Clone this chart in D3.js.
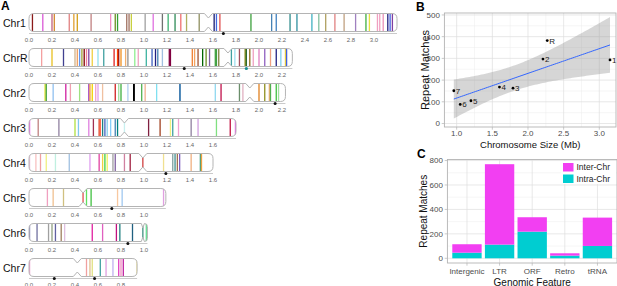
<!DOCTYPE html>
<html><head><meta charset="utf-8">
<script src="https://cdn.jsdelivr.net/npm/d3@7"></script>
<style>body{margin:0;background:#fff}svg{display:block;font-family:"Liberation Sans",Arial,sans-serif}</style>
</head><body><svg id="c" width="617" height="286"></svg>
<script>
// ---------- Panel A data ----------
const chrNames = ["Chr1","ChrR","Chr2","Chr3","Chr4","Chr5","Chr6","Chr7"];
const chrLengths = [3.20, 2.29, 2.23, 1.80, 1.60, 1.19, 1.03, 0.94];
const centromeres = [1.56, 1.73, 1.92, 0.83, 0.99, 0.47, 0.99, 0.42];
const tickMax = [3.0, 2.2, 2.2, 1.6, 1.6, 1.0, 1.0, 0.8];
const bandsChr1 = [[0.03,"#8b1a1a"],[0.12,"#da5ad6"],[0.20,"#c06080"],[0.22,"#d2872e"],[0.35,"#e08080"],[0.39,"#e0a030"],[0.42,"#d4a017"],[0.54,"#c08080"],[0.71,"#f08cc0"],[0.75,"#6b8e23"],[0.77,"#32a032"],[0.85,"#a07060"],[0.87,"#a07060"],[0.89,"#c8d040"],[1.01,"#a0a0a0"],[1.08,"#e070e0"],[1.16,"#707070"],[1.21,"#3cb371"],[1.27,"#2e8b57"],[1.32,"#f07070"],[1.37,"#b0b060"],[1.48,"#8f8f60"],[1.61,"#191970"],[1.63,"#4169e1"],[1.66,"#e05050"],[1.93,"#3ca03c"],[2.11,"#4682b4"],[2.15,"#4080c0"],[2.27,"#2e8b8b"],[2.33,"#3090a0"],[2.46,"#40b0c0"],[2.52,"#80c0a0"],[2.58,"#b0a060"],[2.66,"#e08080"],[2.74,"#c0a080"],[2.84,"#a080c0"],[2.93,"#40b040"],[2.96,"#e8e040"],[3.03,"#f0a0c0"],[3.05,"#f0a0c0"],[3.08,"#e890b8"],[3.12,"#202080"],[3.14,"#4060e0"],[3.16,"#8040a0"]];
const bandsChrR = [[0.11,"#f4a0a0"],[0.20,"#e8c020"],[0.30,"#404090"],[0.40,"#d2b48c"],[0.42,"#f0a060"],[0.44,"#6495ed"],[0.46,"#a0a030"],[0.48,"#800000"],[0.50,"#f080a0"],[0.52,"#8040a0"],[0.55,"#f0d040"],[0.60,"#90e0f0"],[0.65,"#40a0a0"],[0.74,"#e02020"],[0.77,"#ff4500"],[0.78,"#a01010"],[0.80,"#f09020"],[0.84,"#f0b070"],[0.86,"#909090"],[0.92,"#90ee90"],[0.95,"#f0a0c0"],[1.02,"#3cb3a0"],[1.07,"#4060c0"],[1.10,"#202080"],[1.12,"#4682b4"],[1.16,"#a0c0e0"],[1.22,"#800040"],[1.23,"#800040"],[1.42,"#f08030"],[1.44,"#f4a460"],[1.47,"#a0522d"],[1.51,"#006400"],[1.54,"#6b8e23"],[1.57,"#8060a0"],[1.62,"#40a040"],[1.63,"#40a040"],[1.65,"#808040"],[1.76,"#40a0a0"],[1.79,"#a0e0f0"],[1.83,"#a05060"],[1.88,"#808000"],[1.89,"#2e6b2e"],[1.92,"#8b6914"],[1.95,"#f0a0c0"],[2.00,"#e080c0"],[2.05,"#9060c0"],[2.10,"#f0a080"],[2.15,"#202080"],[2.19,"#80d0f0"],[2.23,"#f0d040"],[2.24,"#4060e0"]];
const bandsChr2 = [[0.14,"#e0e020"],[0.15,"#40a040"],[0.21,"#90c0f0"],[0.32,"#d020a0"],[0.36,"#f0a0b0"],[0.44,"#a0e080"],[0.52,"#a040c0"],[0.53,"#f0a040"],[0.55,"#f0d000"],[0.58,"#f0a0d0"],[0.60,"#e0a0f0"],[0.64,"#f0c0a0"],[0.75,"#d02020"],[0.78,"#a0e0a0"],[0.80,"#40b040"],[0.86,"#b0d0f0"],[0.91,"#000000"],[0.915,"#000000"],[0.98,"#50b050"],[1.01,"#f0b090"],[1.11,"#80e0f0"],[1.31,"#4682b4"],[1.315,"#4682b4"],[1.62,"#90d8f0"],[1.67,"#c0104a"],[1.83,"#6b8e6b"],[1.86,"#e0b0c0"],[2.00,"#e08020"],[2.05,"#909020"],[2.09,"#f0b070"],[2.10,"#50b050"],[2.15,"#40c040"],[2.17,"#a0e0a0"]];
const bandsChr3 = [[0.005,"#f060f0"],[0.08,"#c08080"],[0.26,"#9080a0"],[0.40,"#b0e040"],[0.43,"#80c8f0"],[0.52,"#e080e0"],[0.56,"#a03050"],[0.61,"#e04020"],[0.62,"#ff6347"],[0.64,"#208080"],[0.66,"#4060c0"],[0.68,"#87ceeb"],[0.71,"#87cefa"],[0.75,"#4682b4"],[0.77,"#008080"],[0.83,"#c8f0f0"],[1.04,"#802040"],[1.14,"#a04020"],[1.23,"#f0f080"],[1.25,"#40a0a0"],[1.30,"#f0a0d0"],[1.41,"#9080a0"],[1.47,"#d0a0e0"],[1.63,"#80e080"],[1.75,"#c01040"],[1.795,"#f060f0"]];
const bandsChr4 = [[0.005,"#f0c0e0"],[0.06,"#f8c0c0"],[0.10,"#f0a0a0"],[0.15,"#f0f080"],[0.23,"#c0f0e0"],[0.35,"#a0c0e0"],[0.53,"#e0a0f0"],[0.61,"#e040a0"],[0.64,"#f0d040"],[0.66,"#40d040"],[0.68,"#f0f060"],[0.73,"#a0a0a0"],[0.75,"#8060a0"],[0.83,"#d080a0"],[0.88,"#a02040"],[0.99,"#d04040"],[1.17,"#f0e090"],[1.25,"#80a0a0"],[1.27,"#409090"],[1.29,"#a07050"],[1.31,"#8060c0"],[1.41,"#f0b080"],[1.49,"#40a080"],[1.50,"#f0a040"]];
const bandsChr5 = [[0.16,"#f0a0c0"],[0.21,"#f0c090"],[0.30,"#d0c080"],[0.47,"#e05050"],[0.50,"#60e060"],[0.54,"#40c040"],[0.77,"#f8c8a0"],[0.81,"#a0c8f0"],[1.17,"#e0a0e0"]];
const bandsChr6 = [[0.005,"#9090c0"],[0.07,"#7070a0"],[0.17,"#a0a0a0"],[0.20,"#90a080"],[0.23,"#6060a0"],[0.28,"#a08060"],[0.31,"#e0c0e0"],[0.55,"#e020a0"],[0.64,"#e060c0"],[0.76,"#c01080"],[0.79,"#208080"],[0.90,"#206080"],[0.99,"#409080"],[1.02,"#60e090"]];
const bandsChr7 = [[0.005,"#f0a0d0"],[0.50,"#f0a0a0"],[0.53,"#e0c090"],[0.55,"#e0e080"],[0.62,"#40a0a0"],[0.67,"#e0a0e0"],[0.73,"#c0b0f0"],[0.78,"#e040c0"],[0.80,"#f090c0"],[0.82,"#c020a0"],[0.94,"#f0e080"]];
const allBands = [bandsChr1, bandsChrR, bandsChr2, bandsChr3, bandsChr4, bandsChr5, bandsChr6, bandsChr7];
const dotsBlack = [[1.69],[1.35],[2.14],[],[1.19],[0.72],[0.86],[0.22,0.57]];
const dotsTeal = [[],[1.89],[],[],[],[],[],[]];

// ---------- Panel B data ----------
const chrSize = [3.15, 2.27, 2.21, 1.79, 1.60, 1.20, 1.05, 0.96];
const repeatMatches = [293, 382, 297, 163, 168, 105, 88, 151];
const pointLabels = ["1","R","2","3","4","5","6","7"];
const bXTicks = [1.0, 1.5, 2.0, 2.5, 3.0];
const bYTicks = [0, 100, 200, 300, 400, 500];

// ---------- Panel C data ----------
const features = ["Intergenic","LTR","ORF","Retro","tRNA"];
const intraChr = [46, 112, 218, 22, 101];
const interChr = [69, 658, 118, 19, 232];
const cYTicks = [0, 200, 400, 600, 800];
const seriesNames = ["Inter-Chr","Intra-Chr"];
const seriesColors = ["#f23ff2","#00cdd1"];

const svg = d3.select("#c");
const defs = svg.append("defs");

// ================= Panel A =================
const xA = d3.scaleLinear().domain([0, 1]).range([29, 144]);
const rowY = d3.scaleLinear().domain([0, 1]).range([13.5, 48.5]);
const chrH = 18;
svg.append("text").attr("x", 1).attr("y", 10).attr("font-size", 12).attr("font-weight", "bold").text("A");

chrNames.forEach((name, i) => {
  const t = rowY(i), b = t + chrH;
  const x0 = xA(0), x1 = xA(chrLengths[i]), cx = xA(centromeres[i]);
  const w = Math.min(4, (x1 - cx) / 3);
  const r = Math.min(5, x1 - cx - w);
  const r0 = 5, d = 4.5;
  const p = `M${x0+r0},${t}L${cx-w},${t}L${cx},${t+d}L${cx+w},${t}L${x1-r},${t}Q${x1},${t} ${x1},${t+r}L${x1},${b-r}Q${x1},${b} ${x1-r},${b}L${cx+w},${b}L${cx},${b-d}L${cx-w},${b}L${x0+r0},${b}Q${x0},${b} ${x0},${b-r0}L${x0},${t+r0}Q${x0},${t} ${x0+r0},${t}Z`;
  defs.append("clipPath").attr("id", "clip" + i).append("path").attr("d", p);
  const g = svg.append("g");
  g.append("path").attr("d", p).attr("fill", "#fff");
  g.append("g").attr("clip-path", `url(#clip${i})`)
    .selectAll("line").data(allBands[i]).join("line")
    .attr("x1", dd => xA(dd[0])).attr("x2", dd => xA(dd[0]))
    .attr("y1", t).attr("y2", b)
    .attr("stroke", dd => dd[1]).attr("stroke-width", 1.3);
  g.append("path").attr("d", p).attr("fill", "none").attr("stroke", "#b4b4b4").attr("stroke-width", 1);
  const ay = b + 2;
  g.append("line").attr("x1", x0).attr("x2", x1).attr("y1", ay).attr("y2", ay)
    .attr("stroke", "#bdbdbd").attr("stroke-width", 0.8);
  const ticks = d3.range(0, tickMax[i] + 1e-6, 0.2);
  g.selectAll("text.tk").data(ticks).join("text").attr("class", "tk")
    .attr("x", v => xA(v)).attr("y", b + 10).attr("text-anchor", "middle")
    .attr("font-size", 6).attr("fill", "#666").text(d3.format(".1f"));
  g.selectAll("circle.bd").data(dotsBlack[i]).join("circle").attr("class", "bd")
    .attr("cx", v => xA(v)).attr("cy", ay).attr("r", 1.5).attr("fill", "#111");
  g.selectAll("circle.td").data(dotsTeal[i]).join("circle").attr("class", "td")
    .attr("cx", v => xA(v)).attr("cy", ay).attr("r", 1.6).attr("fill", "#1b8f8f");
  g.append("text").attr("x", 3).attr("y", t + chrH / 2 + 4).attr("font-size", 10.5).attr("fill", "#111").text(name);
});

// ================= Panel B =================
const xB = d3.scaleLinear().domain([0.828, 3.234]).range([444.4, 616]);
const yB = d3.scaleLinear().domain([-16, 509]).range([127, 13]);
const gB = svg.append("g");
const [bL, bR] = xB.range(), [bBot, bTop] = yB.range();
defs.append("clipPath").attr("id", "clipB").append("rect").attr("x", bL).attr("y", bTop).attr("width", bR - bL).attr("height", bBot - bTop);
const minorX = [0.75, 1.25, 1.75, 2.25, 2.75, 3.25], minorY = [50, 150, 250, 350, 450];
gB.append("g").attr("clip-path", "url(#clipB)").call(g => {
  g.selectAll("line.mx").data(minorX).join("line").attr("class","mx").attr("x1", xB).attr("x2", xB).attr("y1", bTop).attr("y2", bBot).attr("stroke", "#ededed").attr("stroke-width", 0.5);
  g.selectAll("line.my").data(minorY).join("line").attr("class","my").attr("y1", yB).attr("y2", yB).attr("x1", bL).attr("x2", bR).attr("stroke", "#ededed").attr("stroke-width", 0.5);
  g.selectAll("line.gx").data(bXTicks).join("line").attr("class","gx").attr("x1", xB).attr("x2", xB).attr("y1", bTop).attr("y2", bBot).attr("stroke", "#dedede").attr("stroke-width", 0.7);
  g.selectAll("line.gy").data(bYTicks).join("line").attr("class","gy").attr("y1", yB).attr("y2", yB).attr("x1", bL).attr("x2", bR).attr("stroke", "#dedede").attr("stroke-width", 0.7);
});
const n = chrSize.length, mx = d3.mean(chrSize), my = d3.mean(repeatMatches);
const sxx = d3.sum(chrSize, x => (x - mx) ** 2);
const sxy = d3.sum(chrSize, (x, i) => (x - mx) * (repeatMatches[i] - my));
const slope = sxy / sxx, icpt = my - slope * mx;
const sse = d3.sum(chrSize, (x, i) => (repeatMatches[i] - (icpt + slope * x)) ** 2);
const sd = Math.sqrt(sse / (n - 2)), tq = 2.446912;
const [xmin, xmax] = d3.extent(chrSize);
const fit = d3.range(80).map(k => {
  const x = xmin + k * (xmax - xmin) / 79;
  const yh = icpt + slope * x;
  const se = sd * Math.sqrt(1 / n + (x - mx) ** 2 / sxx);
  return { x, yh, lo: yh - tq * se, hi: yh + tq * se };
});
gB.append("path").attr("clip-path", "url(#clipB)").attr("d", d3.area().x(dd => xB(dd.x)).y0(dd => yB(dd.lo)).y1(dd => yB(dd.hi))(fit))
  .attr("fill", "#999").attr("fill-opacity", 0.4);
gB.append("path").attr("d", d3.line().x(dd => xB(dd.x)).y(dd => yB(dd.yh))(fit))
  .attr("fill", "none").attr("stroke", "#3366ff").attr("stroke-width", 1);
gB.selectAll("circle.pt").data(chrSize).join("circle").attr("class","pt")
  .attr("cx", xB).attr("cy", (x, i) => yB(repeatMatches[i])).attr("r", 1.4).attr("fill", "#000");
gB.selectAll("text.pl").data(chrSize).join("text").attr("class","pl")
  .attr("x", x => xB(x) + 2).attr("y", (x, i) => yB(repeatMatches[i]) + 3)
  .attr("font-size", 8).attr("fill", "#222").text((x, i) => pointLabels[i]);
gB.append("rect").attr("x", bL).attr("y", bTop).attr("width", bR - bL).attr("height", bBot - bTop)
  .attr("fill", "none").attr("stroke", "#b3b3b3").attr("stroke-width", 0.9);
gB.selectAll("line.tx").data(bXTicks).join("line").attr("class","tx").attr("x1", xB).attr("x2", xB).attr("y1", bBot).attr("y2", bBot + 2.7).attr("stroke", "#b3b3b3").attr("stroke-width", 0.7);
gB.selectAll("line.ty").data(bYTicks).join("line").attr("class","ty").attr("y1", yB).attr("y2", yB).attr("x1", bL - 2.7).attr("x2", bL).attr("stroke", "#b3b3b3").attr("stroke-width", 0.7);
gB.selectAll("text.xl").data(bXTicks).join("text").attr("class","xl").attr("x", xB).attr("y", bBot + 9.3)
  .attr("text-anchor", "middle").attr("font-size", 8).attr("fill", "#4d4d4d").text(d3.format(".1f"));
gB.selectAll("text.yl").data(bYTicks).join("text").attr("class","yl").attr("x", bL - 4.5).attr("y", v => yB(v) + 2.9)
  .attr("text-anchor", "end").attr("font-size", 8).attr("fill", "#4d4d4d").text(v => v);
gB.append("text").attr("x", (bL + bR) / 2).attr("y", 147.5).attr("text-anchor", "middle").attr("font-size", 9.5).attr("fill", "#111").text("Chromosome Size (Mb)");
gB.append("text").attr("transform", `translate(428.5,${(bTop + bBot) / 2}) rotate(-90)`).attr("text-anchor", "middle").attr("font-size", 11).attr("fill", "#111").text("Repeat Matches");
svg.append("text").attr("x", 416).attr("y", 11).attr("font-size", 12).attr("font-weight", "bold").text("B");

// ================= Panel C =================
const xC = d3.scalePoint().domain(features).range([447.4, 617]).padding(0.6);
const yC = d3.scaleLinear().domain([-38.5, 808.5]).range([263, 159.5]);
const gC = svg.append("g");
const cL = 447.4, cR = 617, [cBot, cTop] = yC.range();
const bw = xC.step() * 0.9;
gC.selectAll("line.mgy").data([100, 300, 500, 700]).join("line").attr("class","mgy").attr("y1", yC).attr("y2", yC).attr("x1", cL).attr("x2", cR).attr("stroke", "#ededed").attr("stroke-width", 0.5);
gC.selectAll("line.gy").data(cYTicks).join("line").attr("class","gy").attr("y1", yC).attr("y2", yC).attr("x1", cL).attr("x2", cR).attr("stroke", "#dedede").attr("stroke-width", 0.7);
gC.selectAll("line.gx").data(features).join("line").attr("class","gx").attr("x1", f => xC(f)).attr("x2", f => xC(f)).attr("y1", cTop).attr("y2", cBot).attr("stroke", "#dedede").attr("stroke-width", 0.7);
gC.selectAll("rect.intra").data(features).join("rect").attr("class","intra")
  .attr("x", f => xC(f) - bw / 2).attr("width", bw)
  .attr("y", (f, i) => yC(intraChr[i])).attr("height", (f, i) => yC(0) - yC(intraChr[i]))
  .attr("fill", seriesColors[1]);
gC.selectAll("rect.inter").data(features).join("rect").attr("class","inter")
  .attr("x", f => xC(f) - bw / 2).attr("width", bw)
  .attr("y", (f, i) => yC(intraChr[i] + interChr[i])).attr("height", (f, i) => yC(intraChr[i]) - yC(intraChr[i] + interChr[i]))
  .attr("fill", seriesColors[0]);
gC.append("rect").attr("x", cL).attr("y", cTop).attr("width", cR - cL).attr("height", cBot - cTop)
  .attr("fill", "none").attr("stroke", "#b3b3b3").attr("stroke-width", 0.9);
gC.selectAll("line.tx").data(features).join("line").attr("class","tx").attr("x1", f => xC(f)).attr("x2", f => xC(f)).attr("y1", cBot).attr("y2", cBot + 2.7).attr("stroke", "#b3b3b3").attr("stroke-width", 0.7);
gC.selectAll("line.ty").data(cYTicks).join("line").attr("class","ty").attr("y1", yC).attr("y2", yC).attr("x1", cL - 2.7).attr("x2", cL).attr("stroke", "#b3b3b3").attr("stroke-width", 0.7);
gC.selectAll("text.xl").data(features).join("text").attr("class","xl").attr("x", f => xC(f)).attr("y", cBot + 10.5)
  .attr("text-anchor", "middle").attr("font-size", 8).attr("fill", "#4d4d4d").text(f => f);
gC.selectAll("text.yl").data(cYTicks).join("text").attr("class","yl").attr("x", cL - 4.5).attr("y", v => yC(v) + 2.9)
  .attr("text-anchor", "end").attr("font-size", 8).attr("fill", "#4d4d4d").text(v => v);
gC.append("text").attr("x", (cL + cR) / 2).attr("y", 285.5).attr("text-anchor", "middle").attr("font-size", 10).attr("fill", "#111").text("Genomic Feature");
gC.append("text").attr("transform", `translate(426.5,${(cTop + cBot) / 2}) rotate(-90)`).attr("text-anchor", "middle").attr("font-size", 10).attr("fill", "#111").text("Repeat Matches");
svg.append("text").attr("x", 417).attr("y", 158).attr("font-size", 12).attr("font-weight", "bold").text("C");
const lg = gC.append("g");
lg.append("rect").attr("x", 561).attr("y", 161).attr("width", 55).attr("height", 23).attr("fill", "#fff");
seriesNames.forEach((s, k) => {
  lg.append("rect").attr("x", 563).attr("y", 163 + k * 11.5).attr("width", 10.5).attr("height", 8.5).attr("fill", seriesColors[k]);
  lg.append("text").attr("x", 576.5).attr("y", 170.3 + k * 11.5).attr("font-size", 8.5).attr("fill", "#222").text(s);
});
</script></body></html>
